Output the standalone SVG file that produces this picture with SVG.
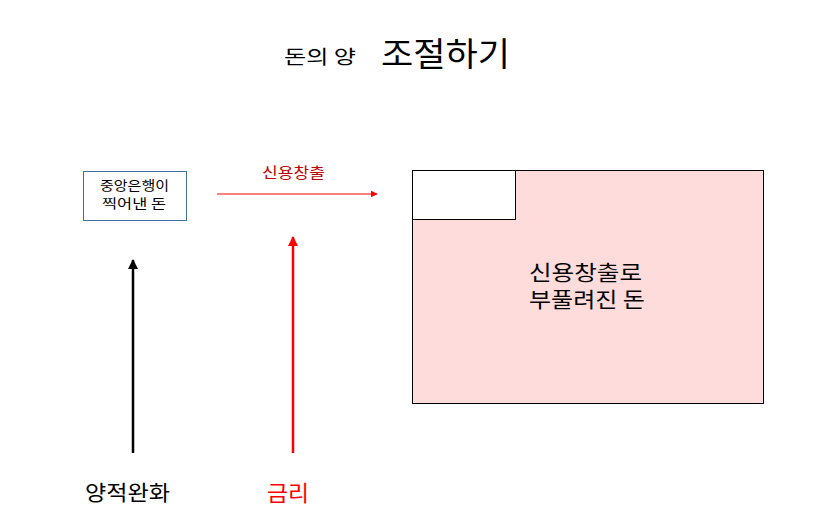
<svg xmlns="http://www.w3.org/2000/svg" width="831" height="531" viewBox="0 0 831 531">
<style>
text{font-family:"Noto Sans CJK KR","Noto Sans CJK SC",sans-serif;fill:#000}
.red{fill:#FF0000}
</style>
<defs>
<marker id="ahr" viewBox="0 0 10 10" refX="9" refY="5" markerWidth="7" markerHeight="7" markerUnits="userSpaceOnUse" orient="auto"><path d="M0,0L10,5L0,10z" fill="#FF0000"/></marker>
<marker id="ahk" viewBox="0 0 10 10" refX="9" refY="5" markerWidth="4" markerHeight="4" orient="auto"><path d="M0,0L10,5L0,10z" fill="#000"/></marker>
<marker id="ahr2" viewBox="0 0 10 10" refX="9" refY="5" markerWidth="4" markerHeight="4" orient="auto"><path d="M0,0L10,5L0,10z" fill="#FF0000"/></marker>
</defs>
<rect width="831" height="531" fill="#fff"/>
<g id="title">
<text x="284" y="64" font-size="19" textLength="72" lengthAdjust="spacingAndGlyphs">돈의 양</text>
<text x="381" y="66" font-size="33" textLength="129" lengthAdjust="spacingAndGlyphs">조절하기</text>
</g>
<g id="central-bank">
<rect x="83.5" y="171.5" width="103" height="49" fill="#fff" stroke="#41719C" stroke-width="1"/>
<text x="100" y="190" font-size="13" textLength="69" lengthAdjust="spacingAndGlyphs">중앙은행이</text>
<text x="102" y="208" font-size="13" textLength="64" lengthAdjust="spacingAndGlyphs">찍어낸 돈</text>
</g>
<g id="credit-money">
<rect x="412.5" y="170.5" width="351" height="233" fill="#FFDCDC" stroke="#000" stroke-width="1"/>
<rect x="412.5" y="170.5" width="103" height="49" fill="#fff" stroke="#000" stroke-width="1"/>
<text x="529" y="280" font-size="21" textLength="113" lengthAdjust="spacingAndGlyphs">신용창출로</text>
<text x="529" y="307" font-size="21" textLength="116" lengthAdjust="spacingAndGlyphs">부풀려진 돈</text>
</g>
<g id="labels">
<text x="85" y="500" font-size="21" textLength="85" lengthAdjust="spacingAndGlyphs">양적완화</text>
<text x="267" y="501" font-size="22" class="red" textLength="42" lengthAdjust="spacingAndGlyphs">금리</text>
<text x="262" y="178" font-size="15" style="fill:#C00000" textLength="63" lengthAdjust="spacingAndGlyphs">신용창출</text>
</g>
<g id="connectors">
<line x1="217" y1="194" x2="377" y2="194" stroke="#FF0000" stroke-width="1" marker-end="url(#ahr)"/>
<line x1="133" y1="453" x2="133" y2="260" stroke="#000" stroke-width="2.5" marker-end="url(#ahk)"/>
<line x1="293" y1="453" x2="293" y2="237" stroke="#FF0000" stroke-width="2.5" marker-end="url(#ahr2)"/>
</g>
</svg>
